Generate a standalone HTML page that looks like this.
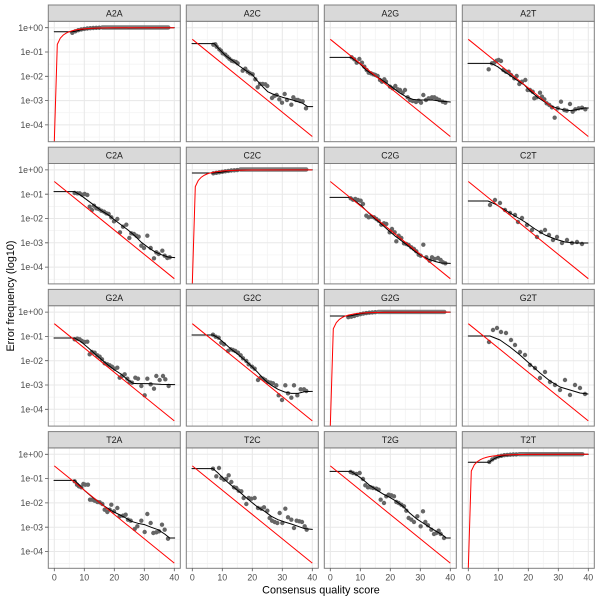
<!DOCTYPE html>
<html>
<head>
<meta charset="utf-8">
<style>
html,body{margin:0;padding:0;background:#fff;}
svg{display:block;}
text{font-family:"Liberation Sans",Arial,sans-serif;}
</style>
</head>
<body>
<svg width="600" height="600" viewBox="0 0 600 600" xmlns="http://www.w3.org/2000/svg">
<defs>
  <g id="bg">
    <rect x="0" y="0" width="132" height="120.4" fill="#fff"/>
    <g stroke="#f2f2f2" stroke-width="0.7" fill="none">
      <path d="M21 0V120.4M51 0V120.4M81 0V120.4M111 0V120.4M0 18.55H132M0 42.85H132M0 67.15H132M0 91.45H132M0 115.75H132"/>
    </g>
    <g stroke="#e8e8e8" stroke-width="1" fill="none">
      <path d="M6 0V120.4M36 0V120.4M66 0V120.4M96 0V120.4M126 0V120.4M0 6.4H132M0 30.7H132M0 55H132M0 79.3H132M0 103.6H132"/>
    </g>
  </g>
  <g id="frame">
    <rect x="0" y="0" width="132" height="120.4" fill="none" stroke="#7f7f7f" stroke-width="1"/>
    <rect x="0" y="-16.3" width="132" height="16.3" fill="#d9d9d9" stroke="#7f7f7f" stroke-width="1"/>
  </g>
  <path id="redoff" d="M6 18L126 115.2" stroke="#ff0000" stroke-width="1" fill="none"/>
  <polyline id="reddiag" points="6,120.4 9,23.1 12,16.9 15,13.7 18,11.75 21,10.4 24,9.46 27,8.75 30,8.22 33,7.82 36,7.52 42,7.09 51,6.74 66,6.5 126,6.4" stroke="#ff0000" stroke-width="1" fill="none"/>
</defs>

<!-- backgrounds -->
<use href="#bg" x="48.3" y="21.3"/><use href="#bg" x="186.3" y="21.3"/><use href="#bg" x="324.3" y="21.3"/><use href="#bg" x="462.3" y="21.3"/>
<use href="#bg" x="48.3" y="163.5"/><use href="#bg" x="186.3" y="163.5"/><use href="#bg" x="324.3" y="163.5"/><use href="#bg" x="462.3" y="163.5"/>
<use href="#bg" x="48.3" y="305.7"/><use href="#bg" x="186.3" y="305.7"/><use href="#bg" x="324.3" y="305.7"/><use href="#bg" x="462.3" y="305.7"/>
<use href="#bg" x="48.3" y="447.9"/><use href="#bg" x="186.3" y="447.9"/><use href="#bg" x="324.3" y="447.9"/><use href="#bg" x="462.3" y="447.9"/>

<!-- Row 1 off-diagonal (zoom coords) -->
<g transform="translate(186,20) scale(0.33333)" fill="none" stroke-linecap="round" stroke-linejoin="round">
  <path stroke="#666" stroke-width="13.2" d="M82 74h0M88 73h0M92 80h0M100 88h0M105 92h0M110 100h0M118 104h0M124 110h0M130 116h0M137 122h0M143 124h0M150 126h0M155 130h0M170 152h0M178 146h0M185 155h0M192 160h0M200 163h0M208 178h0M215 202h0M222 192h0M230 192h0M238 193h0M244 198h0M258 234h0M265 228h0M272 225h0M280 238h0M288 248h0M296 222h0M303 240h0M316 254h0M322 232h0M330 240h0M336 240h0M342 243h0M350 244h0M360 265h0"/>
  <polyline stroke="#000" stroke-width="3" points="18,71 85,71 100,88 120,108 140,122 160,138 180,152 200,165 210,178 230,200 245,215 260,222 290,232 320,240 350,250 365,260 380,260"/>
  <path stroke="#666" stroke-width="13.2" d="M497 112h0M505 118h0M512 128h0M520 117h0M528 128h0M535 140h0M542 150h0M548 158h0M555 160h0M562 163h0M568 165h0M575 168h0M582 180h0M588 185h0M595 178h0M600 185h0M612 200h0M620 205h0M628 198h0M635 208h0M642 210h0M650 218h0M657 210h0M665 232h0M672 240h0M680 243h0M690 246h0M698 242h0M705 248h0M712 225h0M720 240h0M728 235h0M738 232h0M745 232h0M752 236h0M760 240h0M770 245h0M778 248h0"/>
  <polyline stroke="#000" stroke-width="3" points="432,112 495,112 520,130 540,150 560,163 580,175 600,188 620,203 640,218 660,230 680,238 700,240 720,240 740,240 760,243 793,246"/>
  <path stroke="#666" stroke-width="13.2" d="M908 148h0M918 130h0M925 128h0M932 122h0M938 120h0M945 123h0M952 150h0M960 155h0M968 155h0M975 165h0M985 175h0M992 168h0M1000 192h0M1008 185h0M1018 180h0M1025 210h0M1032 210h0M1040 215h0M1045 235h0M1052 232h0M1062 218h0M1068 230h0M1075 238h0M1082 250h0M1090 255h0M1098 262h0M1106 293h0M1115 265h0M1125 245h0M1135 270h0M1142 272h0M1152 252h0M1160 275h0M1168 268h0M1178 265h0M1188 263h0M1198 268h0"/>
  <polyline stroke="#000" stroke-width="3" points="846,130 915,130 935,140 955,155 975,168 995,182 1015,195 1035,215 1055,232 1075,245 1095,258 1115,265 1135,270 1155,272 1175,268 1195,264 1207,264"/>
</g>

<!-- Row 2 off-diagonal -->
<g transform="translate(48,164) scale(0.33333)" fill="none" stroke-linecap="round" stroke-linejoin="round">
  <path stroke="#666" stroke-width="13.2" d="M80 87h0M88 88h0M95 88h0M102 92h0M110 90h0M118 93h0M125 128h0M132 138h0M138 125h0M145 133h0M152 135h0M160 140h0M168 143h0M175 148h0M182 150h0M190 160h0M198 172h0M208 165h0M216 205h0M225 188h0M235 182h0M244 222h0M250 208h0M258 210h0M265 215h0M272 218h0M280 245h0M288 252h0M298 215h0M308 252h0M318 283h0M325 265h0M332 270h0M343 260h0M350 275h0M358 282h0M365 280h0"/>
  <polyline stroke="#000" stroke-width="3" points="18,83 80,83 100,95 120,110 140,125 160,140 180,152 200,168 220,183 240,198 260,215 280,235 300,250 320,263 340,272 360,279 380,281"/>
  <path stroke="#666" stroke-width="13.2" d="M908 103h0M915 107h0M922 105h0M930 108h0M938 110h0M945 120h0M955 155h0M962 160h0M970 158h0M978 160h0M985 165h0M992 170h0M1000 182h0M1008 178h0M1015 180h0M1025 205h0M1032 195h0M1040 205h0M1045 232h0M1052 215h0M1060 222h0M1068 238h0M1075 240h0M1082 243h0M1090 250h0M1098 255h0M1105 262h0M1112 272h0M1118 275h0M1126 242h0M1135 280h0M1145 290h0M1152 280h0M1160 285h0M1170 282h0M1178 288h0M1185 295h0M1192 298h0"/>
  <polyline stroke="#000" stroke-width="3" points="846,100 905,100 920,110 940,125 960,145 980,163 1000,180 1020,198 1040,215 1060,230 1080,245 1100,262 1120,275 1140,285 1160,292 1180,297 1207,298"/>
</g>

<!-- Row 3 off-diagonal -->
<g transform="translate(48,306) scale(0.33333)" fill="none" stroke-linecap="round" stroke-linejoin="round">
  <path stroke="#666" stroke-width="13.2" d="M80 100h0M88 98h0M95 100h0M102 105h0M110 108h0M118 107h0M125 145h0M132 138h0M140 140h0M148 148h0M155 152h0M162 160h0M170 172h0M178 175h0M185 178h0M192 182h0M200 188h0M208 185h0M215 215h0M222 210h0M230 205h0M238 218h0M245 228h0M252 230h0M262 215h0M270 218h0M280 240h0M290 268h0M298 218h0M308 235h0M318 248h0M325 210h0M335 222h0M345 210h0M352 220h0M362 240h0"/>
  <polyline stroke="#000" stroke-width="3" points="18,96 80,96 100,108 120,125 140,143 160,160 180,177 200,192 220,205 240,222 255,232 270,233 300,233 340,235 380,236"/>
  <path stroke="#666" stroke-width="13.2" d="M495 86h0M503 92h0M512 95h0M520 110h0M528 115h0M540 135h0M548 130h0M555 132h0M562 135h0M570 140h0M578 148h0M585 157h0M595 165h0M602 175h0M612 182h0M620 188h0M630 222h0M638 215h0M645 218h0M652 222h0M660 228h0M668 230h0M675 232h0M685 238h0M692 268h0M702 282h0M712 238h0M720 262h0M730 275h0M738 238h0M748 268h0M758 250h0M768 250h0M775 255h0"/>
  <polyline stroke="#000" stroke-width="3" points="432,87 495,87 510,95 530,112 550,130 570,145 590,162 610,180 630,200 650,222 670,238 690,250 710,258 730,262 750,262 770,257 793,256"/>
</g>

<!-- Row 4 off-diagonal -->
<g transform="translate(48,448) scale(0.33333)" fill="none" stroke-linecap="round" stroke-linejoin="round">
  <path stroke="#666" stroke-width="13.2" d="M80 100h0M87 110h0M93 115h0M100 118h0M106 108h0M112 110h0M120 110h0M126 155h0M133 155h0M140 158h0M148 162h0M155 163h0M163 168h0M170 185h0M178 192h0M185 185h0M190 170h0M198 190h0M208 180h0M215 205h0M225 203h0M233 200h0M240 215h0M248 218h0M260 243h0M268 235h0M280 218h0M290 252h0M298 198h0M308 225h0M316 255h0M325 253h0M333 250h0M342 230h0M350 245h0M360 272h0"/>
  <polyline stroke="#000" stroke-width="3" points="18,97 80,97 95,112 110,128 130,145 150,160 170,175 190,188 210,198 230,208 250,220 270,226 290,230 310,238 330,245 350,258 365,270 380,270"/>
  <path stroke="#666" stroke-width="13.2" d="M495 62h0M505 85h0M513 60h0M520 90h0M528 95h0M535 93h0M542 82h0M550 102h0M558 118h0M565 120h0M572 128h0M580 130h0M587 150h0M595 168h0M602 150h0M610 152h0M620 150h0M630 180h0M640 182h0M648 178h0M658 188h0M665 210h0M672 218h0M680 222h0M688 225h0M695 195h0M703 225h0M712 182h0M720 208h0M730 215h0M738 240h0M746 218h0M754 220h0M762 222h0M770 235h0M776 245h0"/>
  <polyline stroke="#000" stroke-width="3" points="432,62 495,62 510,75 530,95 550,112 570,128 590,145 610,162 630,178 650,190 670,205 690,215 710,222 730,228 750,235 770,242 793,244"/>
  <path stroke="#666" stroke-width="13.2" d="M908 72h0M915 75h0M925 78h0M935 75h0M945 93h0M952 112h0M960 118h0M968 118h0M975 120h0M985 122h0M992 125h0M998 155h0M1008 165h0M1015 145h0M1022 140h0M1030 142h0M1038 145h0M1045 162h0M1052 165h0M1060 170h0M1068 175h0M1075 188h0M1082 210h0M1090 215h0M1098 222h0M1108 205h0M1118 235h0M1125 190h0M1132 222h0M1140 232h0M1150 245h0M1158 258h0M1165 255h0M1172 248h0M1178 258h0M1188 270h0"/>
  <polyline stroke="#000" stroke-width="3" points="846,70 908,70 925,80 945,95 965,112 985,125 1005,138 1025,148 1045,160 1065,175 1085,195 1105,212 1125,225 1145,238 1165,250 1185,262 1195,270 1207,270"/>
</g>

<!-- C2T and G2T (original coords) -->
<g fill="none" stroke-linecap="round" stroke-linejoin="round">
  <path stroke="#666" stroke-width="4.4" d="M490 205h0M495 200h0M500 203h0M505 210h0M510 213h0M515 215h0M518 222h0M522 218h0M527 225h0M532 230h0M537 237h0M541 232h0M545 230h0M549 235h0M553 240h0M557 237h0M562 243h0M567 240h0M572 243h0M577 242h0M582 244h0"/>
  <polyline stroke="#000" stroke-width="1" points="468.3,201 488,201 495,204 505,210 515,216 525,222 535,229 545,235 555,239 565,242 575,243 588,243"/>
  <path stroke="#666" stroke-width="4.4" d="M489 342h0M493 330h0M497 328h0M501 332h0M506 333h0M511 340h0M515 345h0M520 352h0M525 355h0M530 365h0M535 368h0M540 378h0M545 372h0M550 382h0M555 385h0M560 390h0M565 380h0M570 395h0M575 385h0M580 388h0M585 394h0"/>
  <polyline stroke="#000" stroke-width="1" points="468.3,336 490,336 500,340 510,347 520,355 530,364 540,373 550,381 560,387 570,390 580,393 588,394"/>
</g>

<!-- Diagonal panels -->
<g transform="translate(48.3,21.3)" fill="none" stroke-linecap="round" stroke-linejoin="round">
  <path stroke="#666" stroke-width="4.4" d="M24 11.5h0M27 10h0M30 8.9h0M33 8.15h0M36 7.6h0M39 7.2h0M42 6.9h0M45 6.7h0M48 6.55h0M51 6.45h0"/>
  <path stroke="#666" stroke-opacity="0.85" stroke-width="4.4" d="M54 6.2H120"/>
  <polyline stroke="#000" stroke-width="1" points="6,10.4 24,10.4 27,10 30,9.2 33,8.4 36,7.8 42,7.2 48,6.9 60,6.7 90,6.6 126,6.5"/>
</g>
<g transform="translate(186.3,163.5)" fill="none" stroke-linecap="round" stroke-linejoin="round">
  <path stroke="#666" stroke-width="4.4" d="M27 9.8h0M30 9.3h0M33 8.8h0M36 8.3h0M39 7.8h0M42 7.4h0M45 7h0M48 6.8h0M51 6.6h0"/>
  <path stroke="#666" stroke-opacity="0.85" stroke-width="4.4" d="M54 6H120"/>
  <polyline stroke="#000" stroke-width="1" points="6,9.5 27,9.5 30,9.3 36,8.6 42,7.5 48,6.9 60,6.5 126,6.4"/>
</g>
<g transform="translate(324.3,305.7)" fill="none" stroke-linecap="round" stroke-linejoin="round">
  <path stroke="#666" stroke-width="4.4" d="M24 11.5h0M27 11h0M30 10.3h0M33 9.3h0M36 8.5h0M39 7.9h0M42 7.4h0M45 7h0M48 6.7h0M51 6.5h0"/>
  <path stroke="#666" stroke-opacity="0.85" stroke-width="4.4" d="M54 6.2H120"/>
  <polyline stroke="#000" stroke-width="1" points="6,10.3 24,10.3 27,10 30,9.3 33,8.6 36,8 42,7.3 48,6.9 60,6.6 126,6.4"/>
</g>
<g transform="translate(462.3,447.9)" fill="none" stroke-linecap="round" stroke-linejoin="round">
  <path stroke="#666" stroke-width="4.4" d="M27 14h0M30 11.5h0M33 9.8h0M36 8.6h0M39 7.9h0M42 7.3h0M45 7h0M48 6.8h0M51 6.6h0M54 6.5h0"/>
  <path stroke="#666" stroke-opacity="0.85" stroke-width="4.4" d="M57 6.3H120"/>
  <polyline stroke="#000" stroke-width="1" points="6,14.3 27,14.3 30,12 33,10.3 36,9 42,7.6 51,6.8 66,6.5 126,6.4"/>
</g>

<!-- Red nominal lines -->
<use href="#reddiag" x="48.3" y="21.3"/><use href="#redoff" x="186.3" y="21.3"/><use href="#redoff" x="324.3" y="21.3"/><use href="#redoff" x="462.3" y="21.3"/>
<use href="#redoff" x="48.3" y="163.5"/><use href="#reddiag" x="186.3" y="163.5"/><use href="#redoff" x="324.3" y="163.5"/><use href="#redoff" x="462.3" y="163.5"/>
<use href="#redoff" x="48.3" y="305.7"/><use href="#redoff" x="186.3" y="305.7"/><use href="#reddiag" x="324.3" y="305.7"/><use href="#redoff" x="462.3" y="305.7"/>
<use href="#redoff" x="48.3" y="447.9"/><use href="#redoff" x="186.3" y="447.9"/><use href="#redoff" x="324.3" y="447.9"/><use href="#reddiag" x="462.3" y="447.9"/>

<!-- Frames + strips -->
<use href="#frame" x="48.3" y="21.3"/><use href="#frame" x="186.3" y="21.3"/><use href="#frame" x="324.3" y="21.3"/><use href="#frame" x="462.3" y="21.3"/>
<use href="#frame" x="48.3" y="163.5"/><use href="#frame" x="186.3" y="163.5"/><use href="#frame" x="324.3" y="163.5"/><use href="#frame" x="462.3" y="163.5"/>
<use href="#frame" x="48.3" y="305.7"/><use href="#frame" x="186.3" y="305.7"/><use href="#frame" x="324.3" y="305.7"/><use href="#frame" x="462.3" y="305.7"/>
<use href="#frame" x="48.3" y="447.9"/><use href="#frame" x="186.3" y="447.9"/><use href="#frame" x="324.3" y="447.9"/><use href="#frame" x="462.3" y="447.9"/>

<!-- Strip labels -->
<g font-size="8.8" fill="#1a1a1a" text-anchor="middle">
  <text x="114.3" y="16.4">A2A</text><text x="252.3" y="16.4">A2C</text><text x="390.3" y="16.4">A2G</text><text x="528.3" y="16.4">A2T</text>
  <text x="114.3" y="158.6">C2A</text><text x="252.3" y="158.6">C2C</text><text x="390.3" y="158.6">C2G</text><text x="528.3" y="158.6">C2T</text>
  <text x="114.3" y="300.8">G2A</text><text x="252.3" y="300.8">G2C</text><text x="390.3" y="300.8">G2G</text><text x="528.3" y="300.8">G2T</text>
  <text x="114.3" y="443">T2A</text><text x="252.3" y="443">T2C</text><text x="390.3" y="443">T2G</text><text x="528.3" y="443">T2T</text>
</g>

<!-- Y ticks -->
<g stroke="#555" stroke-width="0.8">
  <path d="M45 27.7H48.3M45 52H48.3M45 76.3H48.3M45 100.6H48.3M45 124.9H48.3"/>
  <path d="M45 169.9H48.3M45 194.2H48.3M45 218.5H48.3M45 242.8H48.3M45 267.1H48.3"/>
  <path d="M45 312.1H48.3M45 336.4H48.3M45 360.7H48.3M45 385H48.3M45 409.3H48.3"/>
  <path d="M45 454.3H48.3M45 478.6H48.3M45 502.9H48.3M45 527.2H48.3M45 551.5H48.3"/>
</g>
<g font-size="8.8" fill="#4d4d4d" text-anchor="end">
  <text x="43" y="30.8">1e+00</text><text x="43" y="55.1">1e-01</text><text x="43" y="79.4">1e-02</text><text x="43" y="103.7">1e-03</text><text x="43" y="128">1e-04</text>
  <text x="43" y="173">1e+00</text><text x="43" y="197.3">1e-01</text><text x="43" y="221.6">1e-02</text><text x="43" y="245.9">1e-03</text><text x="43" y="270.2">1e-04</text>
  <text x="43" y="315.2">1e+00</text><text x="43" y="339.5">1e-01</text><text x="43" y="363.8">1e-02</text><text x="43" y="388.1">1e-03</text><text x="43" y="412.4">1e-04</text>
  <text x="43" y="457.4">1e+00</text><text x="43" y="481.7">1e-01</text><text x="43" y="506">1e-02</text><text x="43" y="530.3">1e-03</text><text x="43" y="554.6">1e-04</text>
</g>

<!-- X ticks -->
<g stroke="#555" stroke-width="0.8">
  <path d="M54.3 568.3V571.2M84.3 568.3V571.2M114.3 568.3V571.2M144.3 568.3V571.2M174.3 568.3V571.2"/>
  <path d="M192.3 568.3V571.2M222.3 568.3V571.2M252.3 568.3V571.2M282.3 568.3V571.2M312.3 568.3V571.2"/>
  <path d="M330.3 568.3V571.2M360.3 568.3V571.2M390.3 568.3V571.2M420.3 568.3V571.2M450.3 568.3V571.2"/>
  <path d="M468.3 568.3V571.2M498.3 568.3V571.2M528.3 568.3V571.2M558.3 568.3V571.2M588.3 568.3V571.2"/>
</g>
<g font-size="8.8" fill="#4d4d4d" text-anchor="middle">
  <text x="54.3" y="580.5">0</text><text x="84.3" y="580.5">10</text><text x="114.3" y="580.5">20</text><text x="144.3" y="580.5">30</text><text x="174.3" y="580.5">40</text>
  <text x="192.3" y="580.5">0</text><text x="222.3" y="580.5">10</text><text x="252.3" y="580.5">20</text><text x="282.3" y="580.5">30</text><text x="312.3" y="580.5">40</text>
  <text x="330.3" y="580.5">0</text><text x="360.3" y="580.5">10</text><text x="390.3" y="580.5">20</text><text x="420.3" y="580.5">30</text><text x="450.3" y="580.5">40</text>
  <text x="468.3" y="580.5">0</text><text x="498.3" y="580.5">10</text><text x="528.3" y="580.5">20</text><text x="558.3" y="580.5">30</text><text x="588.3" y="580.5">40</text>
</g>

<!-- Axis titles -->
<text x="321" y="593.5" font-size="10.8" fill="#000" text-anchor="middle">Consensus quality score</text>
<text transform="translate(14.2,296) rotate(-90)" font-size="10.8" fill="#000" text-anchor="middle">Error frequency (log10)</text>
</svg>
</body>
</html>
